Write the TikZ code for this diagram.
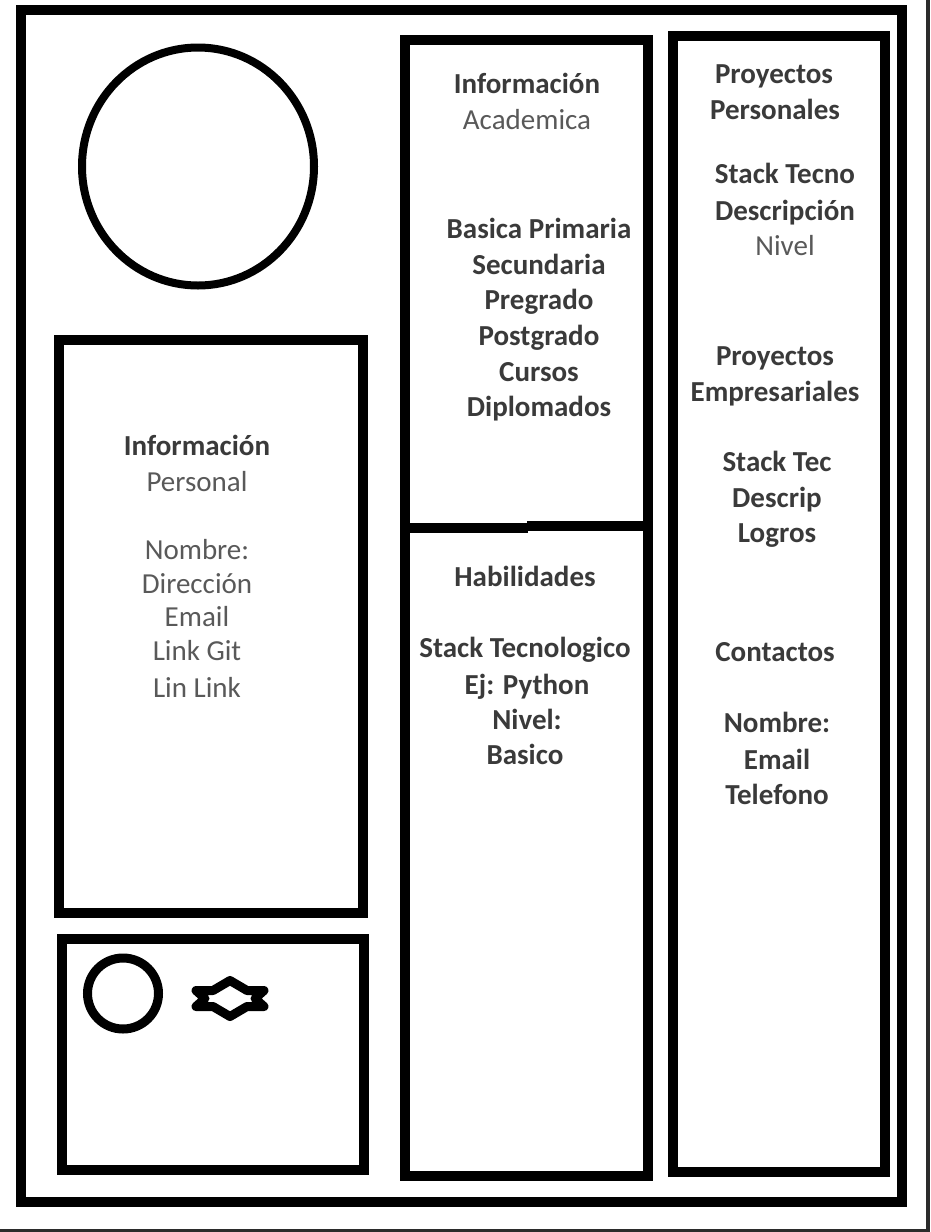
\documentclass[tikz,border=0pt]{standalone}
\usepackage{fontspec}
\setmainfont{Carlito}
\definecolor{boldtxt}{HTML}{3A3A3A}
\definecolor{regtxt}{HTML}{595959}
\definecolor{edge}{HTML}{2B2B2B}
\begin{document}
\begin{tikzpicture}[x=1pt,y=-1pt,
  frame/.style={draw=black,line width=10pt},
  ring/.style={draw=black,line width=8pt},
  bt/.style={anchor=base,inner sep=0pt,text=boldtxt,font=\fontsize{29}{35.6}\selectfont\bfseries},
  rt/.style={anchor=base,inner sep=0pt,text=regtxt,font=\fontsize{29}{35.6}\selectfont}]
\useasboundingbox (0,0) rectangle (930,1232);
\fill[white] (0,0) rectangle (930,1232);
\fill[edge] (926,0) rectangle (930,1232);
\fill[edge] (0,1229) rectangle (930,1232);
% frames
\draw[frame] (21,10) rectangle (901.5,1202);
\draw[frame] (59,340) rectangle (363,913);
\draw[frame] (62,939) rectangle (363.5,1170);
\draw[frame] (405,40) rectangle (648,1176);
\draw[frame] (673,36) rectangle (884.5,1172);
\fill[black] (405,522.5) rectangle (528,532.5);
\fill[black] (527,520.5) rectangle (648,530.5);
% circles
\draw[ring] (198,166.5) ellipse (116 and 119);
\draw[ring,line width=9pt] (123,993.5) circle (35.5);
% star
\draw[line width=9pt,line join=round,line cap=round]
  (230,980.5) -- (247,990.5) -- (264,990.5) -- (255,998.5) -- (264,1006.5) -- (247,1006.5)
  -- (230,1016.5) -- (213,1006.5) -- (196,1006.5) -- (205,998.5) -- (196,990.5) -- (213,990.5) -- cycle;
% personal
\node[bt] (p1) at (197,455) {Información};
\node[rt] (p2) at (197,491) {Personal};
\node[rt] (p3) at (197,559) {Nombre:};
\node[rt] (p4) at (197,593) {Dirección};
\node[rt] (p5) at (197,626) {Email};
\node[rt] (p6) at (197,660) {Link Git};
\node[rt] (p7) at (197,697) {Lin Link};
% academic
\node[bt] (a1) at (527,93) {Información};
\node[rt] (a2) at (527,129) {Academica};
\node[bt] (a3) at (539,238) {Basica Primaria};
\node[bt] (a4) at (539,274) {Secundaria};
\node[bt] (a5) at (539,309) {Pregrado};
\node[bt] (a6) at (539,345) {Postgrado};
\node[bt] (a7) at (539,381) {Cursos};
\node[bt] (a8) at (539,416) {Diplomados};
% skills
\node[bt] (h1) at (525,586) {Habilidades};
\node[bt] (h2) at (525,657) {Stack Tecnologico};
\node[bt] (h3) at (527,694) {Ej: Python};
\node[bt] (h4) at (527,729) {Nivel:};
\node[bt] (h5) at (525,764) {Basico};
% right column
\node[bt] (r1) at (774,83) {Proyectos};
\node[bt] (r2) at (775,119) {Personales};
\node[bt] (r3) at (785,183) {Stack Tecno};
\node[bt] (r4) at (785,220) {Descripción};
\node[rt] (r5) at (785,255) {Nivel};
\node[bt] (r6) at (775,365) {Proyectos};
\node[bt] (r7) at (775,401) {Empresariales};
\node[bt] (r8) at (777,471) {Stack Tec};
\node[bt] (r9) at (777,507) {Descrip};
\node[bt] (r10) at (777,542) {Logros};
\node[bt] (r11) at (775,661) {Contactos};
\node[bt] (r12) at (777,732) {Nombre:};
\node[bt] (r13) at (777,769) {Email};
\node[bt] (r14) at (777,804) {Telefono};
\end{tikzpicture}
\end{document}
